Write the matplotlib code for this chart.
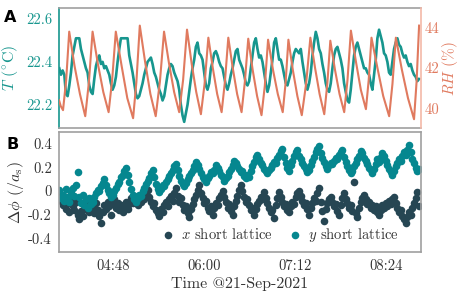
import numpy as np
import pandas as pd
import matplotlib
matplotlib.use('Agg')
import matplotlib.pyplot as plt

plt.rcParams['font.family'] = ['cmr10', 'DejaVu Serif']
plt.rcParams['mathtext.fontset'] = 'cm'
plt.rcParams['axes.unicode_minus'] = False

day = pd.Timestamp('2021-09-21 04:00')

# relative humidity, key points (minutes after 04:00, %)
rh_min = [5.1, 6.5, 8.3, 10.8, 13.2, 17.4, 21.7, 25.9, 28.8, 31.7, 35.9, 40.2, 44.4,
          47.2, 50.1, 54.7, 59.2, 63.8, 66.4, 69.1, 73.3, 77.5, 81.7, 85.0, 88.3,
          92.3, 96.3, 100.3, 103.4, 106.5, 110.2, 113.8, 117.5, 120.4, 123.4, 126.9,
          130.4, 133.9, 136.5, 139.2, 142.7, 146.2, 149.7, 152.3, 155.0, 158.5, 162.0,
          165.5, 168.1, 170.7, 174.6, 178.4, 182.3, 184.5, 186.8, 190.3, 193.9, 197.4,
          200.8, 204.2, 207.9, 211.5, 215.2, 217.6, 220.0, 223.7, 227.3, 231.0, 233.6,
          236.3, 240.3, 244.2, 248.2, 250.4, 252.6, 257.3, 261.9, 266.6, 269.2, 271.9,
          276.7, 281.5, 286.3, 288.3, 290.3]
rh_val = [40.4, 40.1, 39.9, 41.4, 43.8, 42.1, 40.7, 39.6, 41.3, 43.8, 42.2, 40.8, 39.8,
          41.4, 43.8, 42.1, 40.5, 39.5, 41.3, 44.1, 42.3, 40.7, 39.6, 41.3, 43.8,
          42.2, 40.8, 39.8, 41.4, 43.9, 42.2, 40.8, 39.7, 41.2, 43.5, 42.0,
          40.7, 39.8, 41.3, 43.5, 42.0, 40.7, 39.8, 41.3, 43.45, 41.9, 40.6,
          39.65, 41.1, 43.4, 41.9, 40.7, 39.8, 41.2, 43.4, 41.9, 40.6, 39.65,
          41.2, 43.5, 42.0, 40.7, 39.7, 41.2, 43.35, 41.9, 40.7, 39.8, 41.4,
          43.85, 42.3, 40.9, 39.95, 41.4, 43.5, 42.0, 40.6, 39.6, 41.2, 43.5,
          41.9, 40.5, 39.45, 41.3, 44.1]

# logger grid (minutes after 04:00), one reading every ~79 s
T_START, T_STEP = 5.35, 1.319

temp = [22.37, 22.34, 22.36, 22.34, 22.25, 22.24, 22.29, 22.35, 22.43, 22.47,
        22.51, 22.51, 22.51, 22.46, 22.43, 22.40, 22.37, 22.35, 22.29, 22.26,
        22.25, 22.32, 22.38, 22.41, 22.43, 22.39, 22.40, 22.37, 22.38, 22.36,
        22.34, 22.30, 22.27, 22.29, 22.33, 22.40, 22.46, 22.51, 22.51, 22.51,
        22.51, 22.51, 22.43, 22.39, 22.35, 22.30, 22.25, 22.23, 22.24, 22.27,
        22.30, 22.34, 22.37, 22.40, 22.41, 22.42, 22.39, 22.35, 22.33, 22.30,
        22.27, 22.25, 22.22, 22.24, 22.29, 22.34, 22.37, 22.39, 22.38, 22.35,
        22.33, 22.31, 22.27,
        22.20, 22.15, 22.12, 22.16, 22.20, 22.26, 22.32, 22.37, 22.41, 22.47,
        22.49, 22.44, 22.43, 22.41, 22.35, 22.29, 22.27, 22.30, 22.37, 22.40,
        22.44, 22.45, 22.43, 22.40, 22.38, 22.37, 22.33, 22.29, 22.27, 22.30,
        22.34, 22.37, 22.41, 22.45, 22.46, 22.41, 22.39, 22.37, 22.34, 22.30,
        22.29, 22.31, 22.37, 22.43, 22.49, 22.51, 22.46, 22.42, 22.43, 22.40,
        22.35, 22.30, 22.26, 22.29, 22.35, 22.41, 22.49, 22.51, 22.46, 22.41,
        22.41, 22.38, 22.34, 22.30, 22.29, 22.32, 22.35, 22.40, 22.44, 22.46,
        22.45, 22.44,
        22.46, 22.40, 22.35, 22.30, 22.27, 22.30, 22.35, 22.43, 22.49, 22.54,
        22.51, 22.46, 22.44, 22.39, 22.35, 22.30, 22.27, 22.26, 22.30, 22.37,
        22.43, 22.46, 22.47, 22.44, 22.41, 22.37, 22.30, 22.26, 22.22, 22.21,
        22.27, 22.35, 22.43, 22.47, 22.49, 22.46, 22.43, 22.40, 22.37, 22.37,
        22.35, 22.34, 22.30, 22.27, 22.34, 22.41, 22.51, 22.55, 22.52, 22.49,
        22.44, 22.43, 22.40, 22.35, 22.34, 22.40, 22.46, 22.49, 22.51, 22.48,
        22.47, 22.44, 22.42, 22.43, 22.40, 22.38, 22.39, 22.36, 22.34, 22.33,
        22.31, 22.32]

# phase drift of the short lattices (in units of a_s), same logging grid
phase_x = [-0.03, -0.08, -0.12, -0.05, -0.15, -0.10, -0.18, -0.07, -0.13, -0.16, -0.09, -0.20,
           -0.24, -0.17, -0.21,
           -0.12, -0.15, -0.08, -0.18, -0.11, -0.14, -0.19, -0.10, -0.16, -0.21, -0.27,
           -0.18, -0.12, -0.15, -0.09, -0.13, -0.20, -0.11, -0.07, -0.14, -0.10,
           -0.16, -0.12, -0.18, -0.13, -0.09, -0.15, -0.11, -0.06, -0.10, -0.04,
           -0.08, -0.12, -0.05, -0.09, -0.03, -0.07, -0.02, 0.01,
           -0.05, -0.09, -0.13, -0.10, -0.16, -0.19, -0.21,
           -0.15, -0.18, -0.12, -0.09, -0.13, -0.07, -0.04, -0.08, -0.02, 0.03,
           -0.04, -0.09, -0.06, -0.12, -0.16, -0.13, -0.19, -0.22,
           -0.15, -0.11, -0.07, -0.03, 0.01, 0.05,
           -0.02, -0.06, -0.10, -0.08, -0.14, -0.17, -0.13, -0.20,
           -0.14, -0.10, -0.12, -0.06, -0.03, 0.00,
           -0.05, -0.09, -0.14, -0.11, -0.17, -0.20,
           -0.13, -0.08, -0.04, 0.01, 0.05,
           0.00, -0.05, -0.09, -0.07, -0.12, -0.16, -0.14, -0.20,
           -0.15, -0.11, -0.08, -0.05, -0.07, -0.01,
           -0.06, -0.10, -0.14, -0.18, -0.16, -0.23,
           -0.12, -0.06, -0.01,
           -0.05, -0.09, -0.13, -0.11, -0.16, -0.18,
           -0.13, -0.09, -0.11, -0.05, -0.02, 0.00,
           -0.04, -0.08, -0.12, -0.10, -0.15, -0.20,
           -0.14, -0.10, -0.06, -0.08, -0.02, 0.03,
           -0.09, -0.17, -0.25,
           -0.15, -0.10, -0.07, -0.05, -0.09, -0.13, -0.11, -0.17, -0.20,
           -0.12, -0.06, -0.02,
           -0.07, -0.10, -0.14, -0.12, -0.17, 0.08, -0.19, -0.22,
           -0.14, -0.09, -0.06, -0.03,
           -0.07, -0.11, -0.09, -0.14, -0.12, -0.16, -0.13, -0.18, -0.20,
           -0.16, -0.12, -0.14, -0.10, -0.13, -0.08, -0.11, -0.07, -0.05,
           -0.10, -0.14, -0.18, -0.16, -0.21, -0.24, -0.27,
           -0.22, -0.18, -0.20, -0.14, -0.10, -0.06, -0.01, -0.13]

phase_y = [0.01, -0.06, -0.03, -0.08, 0.02, -0.05, -0.09,
           -0.02, 0.03, -0.04, 0.05, 0.16,
           -0.05, -0.10, -0.03, -0.12, -0.07, -0.14, -0.06, -0.11, -0.09,
           -0.05, -0.02, 0.01, 0.00, 0.04, 0.07, 0.10,
           0.05, 0.01, -0.02, -0.05, -0.03,
           0.00, 0.03, 0.06, 0.08, 0.12, 0.14, 0.17, 0.20,
           0.14, 0.08, 0.02, -0.03, -0.07, -0.09,
           -0.06, -0.03, -0.04, 0.00, 0.03, 0.06, 0.09, 0.11, 0.15, 0.18,
           0.12, 0.06, 0.02, -0.01,
           0.02, 0.05, 0.04, 0.08, 0.10, 0.13, 0.15, 0.18, 0.21, 0.23,
           0.18, 0.13, 0.09, 0.06, 0.04, 0.07,
           0.10, 0.13, 0.15, 0.18, 0.21, 0.25, 0.22,
           0.19, 0.15, 0.12, 0.10, 0.08, 0.11,
           0.13, 0.16, 0.15, 0.18, 0.22, 0.20,
           0.17, 0.14, 0.12, 0.09, 0.11, 0.13,
           0.16, 0.19, 0.22, 0.26, 0.24,
           0.21, 0.19, 0.16, 0.17, 0.13, 0.11, 0.14, 0.12,
           0.17, 0.21, 0.25, 0.29, 0.31,
           0.27, 0.24, 0.22, 0.19, 0.17, 0.15, 0.18,
           0.20, 0.22, 0.25, 0.24, 0.28, 0.31, 0.34, 0.36,
           0.29, 0.24, 0.20, 0.17,
           0.22, 0.26, 0.30, 0.33, 0.35,
           0.30, 0.27, 0.24, 0.21, 0.19, 0.16, 0.18,
           0.22, 0.26, 0.29, 0.33, 0.36, 0.38,
           0.32, 0.28, 0.25, 0.21, 0.19, 0.22,
           0.24, 0.23, 0.26, 0.28, 0.27, 0.31, 0.33, 0.35,
           0.29, 0.25, 0.21, 0.18, 0.15, 0.17,
           0.21, 0.24, 0.27, 0.30, 0.34, 0.32,
           0.28, 0.26, 0.23, 0.20, 0.18, 0.15, 0.19,
           0.23, 0.27, 0.25, 0.29, 0.32, 0.30,
           0.26, 0.22, 0.19, 0.16, 0.14, 0.17,
           0.21, 0.24, 0.27, 0.26, 0.30, 0.33, 0.31, 0.35, 0.39,
           0.33, 0.27, 0.24, 0.20, 0.17, 0.19]

c_temp = '#17968e'
c_rh = '#e07a5f'
c_x = '#264653'
c_y = '#05878f'
c_spine = '#a0a0a0'


def to_time(minutes):
    return day + pd.to_timedelta(np.asarray(minutes), unit='m')


t_log = to_time(T_START + T_STEP * np.arange(len(temp)))
t_rh = to_time(rh_min)
xlim = to_time([5.1, 291.6])
xticks = to_time([48, 120, 192, 264])

fig = plt.figure(figsize=(4.63, 2.96), dpi=100)
ax1 = fig.add_axes([0.1274, 0.5666, 0.7813, 0.4054])
ax2 = fig.add_axes([0.1274, 0.1476, 0.7813, 0.4054])

# --- panel A: temperature and humidity
ax1.plot(t_log, temp, color=c_temp, lw=1.9)
ax1.set_ylim(22.09, 22.65)
ax1.set_yticks([22.2, 22.4, 22.6])
ax1.set_yticklabels(['22.2', '22.4', '22.6'])
ax1.tick_params(axis='y', colors=c_temp, length=0, labelsize=10.5, pad=5)
ax1.set_ylabel('$T$ ($^{\\circ}$C)', color=c_temp, fontsize=11.5, labelpad=4)
ax1.set_xlim(xlim)
ax1.set_xticks(xticks)
ax1.tick_params(axis='x', length=0, labelbottom=False)

ax1r = ax1.twinx()
ax1r.plot(t_rh, rh_val, color=c_rh, lw=1.5)
ax1r.set_ylim(39.0, 44.96)
ax1r.set_yticks([40, 42, 44])
ax1r.set_yticklabels(['40', '42', '44'])
ax1r.tick_params(axis='y', colors=c_rh, length=0, labelsize=10.5, pad=3)
ax1r.set_ylabel('$RH$ (%)', color=c_rh, fontsize=11, labelpad=0)
ax1r.set_xlim(xlim)

for s in ['top', 'bottom']:
    ax1.spines[s].set_color(c_spine)
    ax1.spines[s].set_linewidth(1.2)
ax1.spines['left'].set_color(c_temp)
ax1.spines['right'].set_visible(False)
for s in ['top', 'bottom', 'left']:
    ax1r.spines[s].set_visible(False)
ax1r.spines['right'].set_color('#f4b9a8')
ax1r.spines['right'].set_linewidth(1.2)
ax1.spines['left'].set_linewidth(1.2)

# --- panel B: lattice phase
ax2.scatter(t_log, phase_x, s=30, color=c_x, lw=0, label='$x$ short lattice')
ax2.scatter(t_log, phase_y, s=30, color=c_y, lw=0, label='$y$ short lattice')
ax2.set_ylim(-0.52, 0.5)
ax2.set_yticks([-0.4, -0.2, 0, 0.2, 0.4])
ax2.set_yticklabels(['-0.4', '-0.2', '0', '0.2', '0.4'])
ax2.set_xlim(xlim)
ax2.set_xticks(xticks)
ax2.set_xticklabels(['04:48', '06:00', '07:12', '08:24'])
ax2.tick_params(length=0, labelsize=10.5, colors='#333333', pad=5)
ax2.set_ylabel('$\\Delta\\phi$ ($/a_{\\rm s}$)', fontsize=11.5, color='#333333', labelpad=2)
ax2.set_xlabel('Time @21-Sep-2021', fontsize=11.5, color='#333333', labelpad=3)
for s in ax2.spines.values():
    s.set_color(c_spine)
    s.set_linewidth(1.2)
ax2.legend(loc='lower right', bbox_to_anchor=(0.975, -0.04), ncol=2, frameon=False,
           fontsize=10.5, handletextpad=0.4, columnspacing=1.0, handlelength=1.0,
           labelcolor='#333333')

fig.text(0.008, 0.965, 'A', fontsize=11.5, fontweight='bold', family='DejaVu Sans', va='top')
fig.text(0.015, 0.538, 'B', fontsize=11.5, fontweight='bold', family='DejaVu Sans', va='top')

fig.savefig('out.png', dpi=100)
